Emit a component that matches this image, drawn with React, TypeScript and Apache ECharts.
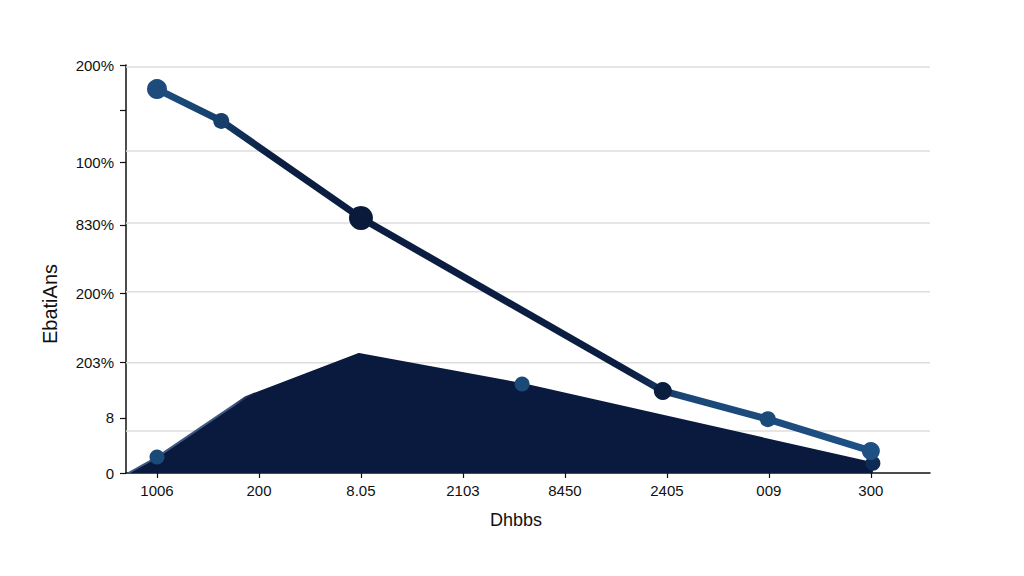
import React, { useEffect, useRef } from "react";
import * as echarts from "echarts";

// Tick labels
const xLabels = ["1006", "200", "8.05", "2103", "8450", "2405", "009", "300"];
const xTickValues = [0, 1, 2, 3, 4, 5, 6, 7];
const yTickValues = [100, 89, 76.2, 60.8, 44.1, 27.2, 13.5, 0];
const yLabelValues = [100, 76.2, 60.8, 44.1, 27.2, 13.5, 0];
const yLabels = ["200%", "100%", "830%", "200%", "203%", "8", "0"];
const gridValues = [99.5, 78.9, 61.3, 44.4, 27.0, 10.3];

// Series values [x, y]
const lineX = [0, 0.63, 2, 4.96, 5.99, 7];
const lineY = [94.1, 86.3, 62.5, 20.1, 13.2, 5.4];
const lineMarkerSize = [20, 16, 24, 18, 16, 18];
const lineMarkerColor = ["#1d4c7c", "#173f6a", "#0a1a3a", "#0c1e3f", "#1c4a78", "#1f5084"];

const areaX = [-0.28, 0, 0.87, 1.98, 3.58, 7.02];
const areaY = [0, 3.9, 18.6, 29.2, 21.8, 2.4];
const areaMarker = [false, true, false, false, true, true];
const areaMarkerColor = ["", "#1c4a78", "", "", "#1c4a78", "#0e2a55"];

const X_MIN = -0.304;
const X_MAX = 7.58;

export default function App() {
  const ref = useRef<HTMLDivElement>(null);
  useEffect(() => {
    if (!ref.current) return;
    const chart = echarts.init(ref.current, undefined, { renderer: "svg" });
    const findLabel = (v: number) => {
      for (let i = 0; i < yLabelValues.length; i++) {
        if (Math.abs(yLabelValues[i] - v) < 0.01) return yLabels[i];
      }
      return "";
    };
    const font = "Liberation Sans Narrow, Liberation Sans, Arial";
    const gridSeries = gridValues.map((v) => ({
      type: "line",
      z: 1,
      silent: true,
      symbol: "none",
      data: [
        [X_MIN, v],
        [X_MAX, v],
      ],
      lineStyle: { color: "#dedede", width: 1.5 },
    }));
    chart.setOption({
      animation: false,
      backgroundColor: "#ffffff",
      grid: { left: 118, right: 86, top: 57, bottom: 95 },
      xAxis: {
        type: "value",
        min: X_MIN,
        max: X_MAX,
        splitLine: { show: false },
        axisLine: { show: true, onZero: false, lineStyle: { color: "#111", width: 1.5 } },
        axisTick: {
          show: true,
          customValues: xTickValues,
          length: 5,
          lineStyle: { color: "#111", width: 1.2 },
        },
        axisLabel: {
          customValues: xTickValues,
          formatter: (v: number) => xLabels[Math.round(v)] ?? "",
          color: "#111",
          fontSize: 15,
          fontFamily: font,
          margin: 10,
        },
        name: "Dhbbs",
        nameLocation: "middle",
        nameGap: 38,
        nameTextStyle: {
          color: "#111",
          fontSize: 18,
          fontFamily: font,
          padding: [0, 24, 0, 0],
        },
      },
      yAxis: {
        type: "value",
        min: 0,
        max: 100,
        splitLine: { show: false },
        axisLine: { show: true, onZero: false, lineStyle: { color: "#111", width: 1.5 } },
        axisTick: {
          show: true,
          customValues: yTickValues,
          length: 6,
          lineStyle: { color: "#111", width: 1.2 },
        },
        axisLabel: {
          customValues: yLabelValues,
          formatter: (v: number) => findLabel(v),
          color: "#111",
          fontSize: 15,
          fontFamily: font,
          margin: 12,
        },
      },
      graphic: [
        {
          type: "text",
          x: 42,
          y: 296,
          rotation: Math.PI / 2,
          style: {
            text: "EbatiAns",
            fill: "#111",
            fontSize: 20,
            fontFamily: font,
            align: "center",
            verticalAlign: "middle",
          },
        },
      ],
      series: [
        ...gridSeries,
        {
          type: "line",
          z: 2,
          data: areaX.map((x, i) => ({
            value: [x, areaY[i]],
            symbol: areaMarker[i] ? "circle" : "none",
            symbolSize: areaMarker[i] ? 15 : 0,
            itemStyle: { color: areaMarkerColor[i] || "#0a1a3f" },
          })),
          showSymbol: true,
          lineStyle: {
            width: 2,
            color: {
              type: "linear",
              x: 0,
              y: 0,
              x2: 1,
              y2: 0,
              colorStops: [
                { offset: 0, color: "#3f5a80" },
                { offset: 0.14, color: "#3f5a80" },
                { offset: 0.17, color: "#0a1a3f" },
                { offset: 1, color: "#0a1a3f" },
              ],
            },
          },
          areaStyle: { color: "#0a1a3f", opacity: 1 },
        },
        {
          type: "line",
          z: 3,
          data: lineX.map((x, i) => ({
            value: [x, lineY[i]],
            symbolSize: lineMarkerSize[i],
            itemStyle: { color: lineMarkerColor[i] },
          })),
          symbol: "circle",
          lineStyle: {
            width: 7,
            color: {
              type: "linear",
              x: 0,
              y: 0,
              x2: 1,
              y2: 0,
              colorStops: [
                { offset: 0, color: "#1d4e80" },
                { offset: 0.08, color: "#16406c" },
                { offset: 0.16, color: "#0b1d40" },
                { offset: 0.66, color: "#0b1d40" },
                { offset: 0.74, color: "#1a4777" },
                { offset: 1, color: "#1f5186" },
              ],
            },
          },
        },
      ],
    });
    return () => chart.dispose();
  }, []);
  return <div ref={ref} style={{ width: 1008, height: 560 }} />;
}
